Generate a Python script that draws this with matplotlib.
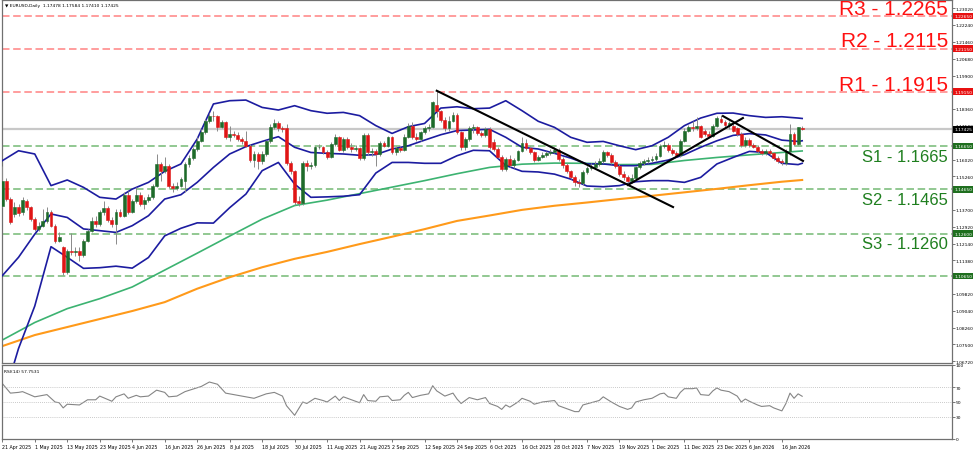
import numpy as np
import pandas as pd
import matplotlib
matplotlib.use("Agg")
import matplotlib.pyplot as plt
import matplotlib.transforms as mtransforms

plt.rcParams['font.family'] = ['DejaVu Sans']

# EURUSD daily candles, 21 Apr 2025 .. 23 Jan 2026 (terminal skips 25 Dec and 1 Jan)
opens = [
    1.1389, 1.1505, 1.1420, 1.1351, 1.1385, 1.1358, 1.1412, 1.1382, 1.1328, 1.1282,
    1.1297, 1.1317, 1.1358, 1.1297, 1.1228, 1.1197, 1.1081, 1.1181, 1.1174, 1.1181,
    1.1163, 1.1228, 1.1274, 1.1320, 1.1305, 1.1358, 1.1378, 1.1323, 1.1305, 1.1358,
    1.1343, 1.1439, 1.1358, 1.1409, 1.1439, 1.1397, 1.1415, 1.1428, 1.1482, 1.1582,
    1.1548, 1.1574, 1.1482, 1.1471, 1.1482, 1.1505, 1.1582, 1.1609, 1.1651, 1.1689,
    1.1728, 1.1779, 1.1805, 1.1802, 1.1754, 1.1774, 1.1708, 1.1720, 1.1717, 1.1697,
    1.1686, 1.1666, 1.1600, 1.1628, 1.1594, 1.1628, 1.1686, 1.1754, 1.1769, 1.1748,
    1.1750, 1.1585, 1.1548, 1.1410, 1.1400, 1.1588, 1.1571, 1.1579, 1.1659, 1.1662,
    1.1639, 1.1616, 1.1674, 1.1705, 1.1646, 1.1697, 1.1659, 1.1651, 1.1654, 1.1609,
    1.1717, 1.1635, 1.1643, 1.1628, 1.1677, 1.1666, 1.1705, 1.1635, 1.1656, 1.1646,
    1.1708, 1.1759, 1.1708, 1.1697, 1.1728, 1.1748, 1.1754, 1.1856, 1.1825, 1.1785,
    1.1746, 1.1782, 1.1809, 1.1728, 1.1659, 1.1697, 1.1748, 1.1751, 1.1723, 1.1716,
    1.1742, 1.1682, 1.1651, 1.1616, 1.1560, 1.1603, 1.1577, 1.1600, 1.1640, 1.1680,
    1.1656, 1.1637, 1.1600, 1.1616, 1.1625, 1.1631, 1.1639, 1.1646, 1.1605, 1.1576,
    1.1548, 1.1523, 1.1499, 1.1495, 1.1545, 1.1563, 1.1569, 1.1582, 1.1594, 1.1635,
    1.1625, 1.1589, 1.1574, 1.1535, 1.1520, 1.1505, 1.1517, 1.1566, 1.1585, 1.1594,
    1.1600, 1.1605, 1.1620, 1.1665, 1.1671, 1.1646, 1.1631, 1.1622, 1.1689, 1.1736,
    1.1751, 1.1746, 1.1759, 1.1732, 1.1720, 1.1712, 1.1759, 1.1791, 1.1776, 1.1760,
    1.1757, 1.1748, 1.1720, 1.1668, 1.1692, 1.1671, 1.1662, 1.1640, 1.1631, 1.1643,
    1.1631, 1.1609, 1.1597, 1.1585, 1.1640, 1.1720, 1.1674, 1.17478,
]
highs = [
    1.1574, 1.1517, 1.1428, 1.1405, 1.1397, 1.1428, 1.1420, 1.1389, 1.1335, 1.1312,
    1.1374, 1.1382, 1.1369, 1.1305, 1.1266, 1.1205, 1.1189, 1.1262, 1.1197, 1.1197,
    1.1235, 1.1282, 1.1335, 1.1343, 1.1369, 1.1412, 1.1389, 1.1335, 1.1374, 1.1374,
    1.1451, 1.1459, 1.1420, 1.1474, 1.1451, 1.1428, 1.1443, 1.1489, 1.1628, 1.1589,
    1.1612, 1.1582, 1.1492, 1.1497, 1.1523, 1.1589, 1.1625, 1.1662, 1.1705, 1.1743,
    1.1789, 1.1816, 1.1828, 1.1809, 1.1785, 1.1782, 1.1759, 1.1736, 1.1728, 1.1708,
    1.1736, 1.1674, 1.1643, 1.1635, 1.1643, 1.1692, 1.1766, 1.1789, 1.1779, 1.1759,
    1.1766, 1.1594, 1.1554, 1.1435, 1.1597, 1.1600, 1.1589, 1.1666, 1.1674, 1.1666,
    1.1646, 1.1682, 1.1720, 1.1712, 1.1705, 1.1705, 1.1677, 1.1671, 1.1662, 1.1723,
    1.1723, 1.1656, 1.1651, 1.1686, 1.1689, 1.1712, 1.1712, 1.1666, 1.1662, 1.1720,
    1.1769, 1.1774, 1.1723, 1.1736, 1.1759, 1.1766, 1.1874, 1.1920, 1.1831, 1.1797,
    1.1805, 1.1820, 1.1816, 1.1736, 1.1705, 1.1759, 1.1766, 1.1759, 1.1736, 1.1751,
    1.1751, 1.1697, 1.1659, 1.1625, 1.1612, 1.1625, 1.1609, 1.1646, 1.1705, 1.1697,
    1.1666, 1.1643, 1.1625, 1.1635, 1.1643, 1.1651, 1.1662, 1.1656, 1.1612, 1.1585,
    1.1554, 1.1532, 1.1512, 1.1554, 1.1574, 1.1585, 1.1594, 1.1609, 1.1646, 1.1643,
    1.1631, 1.1600, 1.1582, 1.1548, 1.1532, 1.1535, 1.1574, 1.1594, 1.1605, 1.1612,
    1.1620, 1.1631, 1.1674, 1.1689, 1.1677, 1.1656, 1.1643, 1.1697, 1.1748, 1.1763,
    1.1782, 1.1800, 1.1763, 1.1743, 1.1736, 1.1766, 1.1803, 1.1808, 1.1785, 1.1782,
    1.1766, 1.1754, 1.1728, 1.1705, 1.1700, 1.1677, 1.1668, 1.1651, 1.1651, 1.1651,
    1.1637, 1.1620, 1.1605, 1.1649, 1.1766, 1.1728, 1.1754, 1.17584,
]
lows = [
    1.1382, 1.1412, 1.1305, 1.1335, 1.1343, 1.1348, 1.1369, 1.1317, 1.1274, 1.1271,
    1.1289, 1.1308, 1.1289, 1.1215, 1.1220, 1.1071, 1.1074, 1.1163, 1.1158, 1.1135,
    1.1154, 1.1220, 1.1266, 1.1292, 1.1297, 1.1348, 1.1312, 1.1289, 1.1212, 1.1335,
    1.1338, 1.1351, 1.1354, 1.1400, 1.1389, 1.1374, 1.1405, 1.1420, 1.1474, 1.1505,
    1.1539, 1.1471, 1.1451, 1.1462, 1.1474, 1.1451, 1.1566, 1.1600, 1.1643, 1.1682,
    1.1720, 1.1769, 1.1782, 1.1736, 1.1748, 1.1697, 1.1689, 1.1705, 1.1686, 1.1674,
    1.1659, 1.1589, 1.1566, 1.1559, 1.1582, 1.1620, 1.1677, 1.1743, 1.1736, 1.1728,
    1.1579, 1.1535, 1.1394, 1.1389, 1.1394, 1.1548, 1.1559, 1.1569, 1.1649, 1.1628,
    1.1605, 1.1609, 1.1666, 1.1640, 1.1635, 1.1651, 1.1635, 1.1643, 1.1600, 1.1600,
    1.1625, 1.1620, 1.1574, 1.1620, 1.1659, 1.1659, 1.1628, 1.1625, 1.1635, 1.1640,
    1.1702, 1.1697, 1.1686, 1.1686, 1.1720, 1.1736, 1.1748, 1.1797, 1.1774, 1.1736,
    1.1732, 1.1774, 1.1720, 1.1646, 1.1646, 1.1689, 1.1723, 1.1717, 1.1705, 1.1705,
    1.1651, 1.1640, 1.1609, 1.1548, 1.1548, 1.1566, 1.1563, 1.1594, 1.1635, 1.1646,
    1.1628, 1.1589, 1.1594, 1.1609, 1.1616, 1.1625, 1.1634, 1.1597, 1.1563, 1.1539,
    1.1512, 1.1482, 1.1477, 1.1486, 1.1535, 1.1554, 1.1563, 1.1572, 1.1588, 1.1616,
    1.1582, 1.1563, 1.1528, 1.1508, 1.1489, 1.1495, 1.1508, 1.1559, 1.1579, 1.1585,
    1.1589, 1.1597, 1.1612, 1.1656, 1.1635, 1.1622, 1.1616, 1.1616, 1.1682, 1.1728,
    1.1736, 1.1739, 1.1702, 1.1711, 1.1705, 1.1708, 1.1754, 1.1769, 1.1754, 1.1742,
    1.1729, 1.1712, 1.1659, 1.1662, 1.1662, 1.1656, 1.1631, 1.1622, 1.1625, 1.1622,
    1.1600, 1.1588, 1.1579, 1.1579, 1.1625, 1.1665, 1.1668, 1.17410,
]
closes = [
    1.1505, 1.1420, 1.1312, 1.1385, 1.1354, 1.1415, 1.1382, 1.1328, 1.1282, 1.1297,
    1.1317, 1.1358, 1.1297, 1.1228, 1.1246, 1.1081, 1.1181, 1.1174, 1.1181, 1.1163,
    1.1228, 1.1274, 1.1320, 1.1305, 1.1358, 1.1378, 1.1323, 1.1305, 1.1358, 1.1343,
    1.1439, 1.1358, 1.1409, 1.1439, 1.1397, 1.1415, 1.1428, 1.1482, 1.1582, 1.1548,
    1.1574, 1.1482, 1.1471, 1.1482, 1.1512, 1.1582, 1.1609, 1.1651, 1.1689, 1.1728,
    1.1779, 1.1805, 1.1802, 1.1754, 1.1774, 1.1708, 1.1720, 1.1717, 1.1697, 1.1686,
    1.1666, 1.1600, 1.1628, 1.1594, 1.1628, 1.1686, 1.1754, 1.1769, 1.1748, 1.1743,
    1.1585, 1.1548, 1.1405, 1.1400, 1.1588, 1.1571, 1.1579, 1.1659, 1.1662, 1.1639,
    1.1616, 1.1674, 1.1705, 1.1646, 1.1697, 1.1659, 1.1651, 1.1654, 1.1609, 1.1717,
    1.1635, 1.1643, 1.1628, 1.1677, 1.1666, 1.1705, 1.1635, 1.1656, 1.1646, 1.1708,
    1.1759, 1.1708, 1.1697, 1.1728, 1.1748, 1.1754, 1.1866, 1.1825, 1.1785, 1.1746,
    1.1782, 1.1809, 1.1728, 1.1659, 1.1697, 1.1748, 1.1751, 1.1723, 1.1716, 1.1742,
    1.1662, 1.1651, 1.1616, 1.1560, 1.1603, 1.1577, 1.1600, 1.1640, 1.1680, 1.1656,
    1.1637, 1.1600, 1.1616, 1.1625, 1.1631, 1.1639, 1.1646, 1.1605, 1.1576, 1.1548,
    1.1523, 1.1499, 1.1495, 1.1545, 1.1563, 1.1569, 1.1582, 1.1594, 1.1635, 1.1625,
    1.1589, 1.1574, 1.1535, 1.1520, 1.1505, 1.1517, 1.1566, 1.1585, 1.1594, 1.1600,
    1.1605, 1.1620, 1.1665, 1.1671, 1.1646, 1.1631, 1.1622, 1.1689, 1.1736, 1.1751,
    1.1746, 1.1759, 1.1708, 1.1720, 1.1712, 1.1759, 1.1794, 1.1776, 1.1760, 1.1772,
    1.1736, 1.1720, 1.1668, 1.1692, 1.1671, 1.1662, 1.1640, 1.1631, 1.1643, 1.1631,
    1.1609, 1.1597, 1.1589, 1.1640, 1.1720, 1.1674, 1.1751, 1.17425,
]

# Bollinger bands (20), read every 4th bar plus the last bar
band_bars = list(range(0, 197, 4)) + [197]
bb_upper = [
    1.1597, 1.1643, 1.1628, 1.1482, 1.1508, 1.1474, 1.1428, 1.1420, 1.1466, 1.1497,
    1.1548, 1.1582, 1.1697, 1.1859, 1.1874, 1.1877, 1.1843, 1.1831, 1.1851, 1.1828,
    1.1816, 1.1820, 1.1805, 1.1759, 1.1723, 1.1754, 1.1769, 1.1840, 1.1846, 1.1837,
    1.1840, 1.1874, 1.1828, 1.1779, 1.1751, 1.1705, 1.1682, 1.1686, 1.1666, 1.1648,
    1.1666, 1.1705, 1.1759, 1.1794, 1.1816, 1.1817, 1.1805, 1.1797, 1.1800, 1.1794,
    1.1792,
]
bb_mid = [
    1.1066, 1.1151, 1.1258, 1.1351, 1.1335, 1.1282, 1.1274, 1.1266, 1.1297, 1.1343,
    1.1420, 1.1440, 1.1497, 1.1566, 1.1628, 1.1662, 1.1686, 1.1708, 1.1659, 1.1635,
    1.1631, 1.1628, 1.1622, 1.1625, 1.1651, 1.1666, 1.1692, 1.1717, 1.1736, 1.1739,
    1.1742, 1.1705, 1.1659, 1.1651, 1.1631, 1.1609, 1.1582, 1.1582, 1.1574, 1.1574,
    1.1585, 1.1600, 1.1625, 1.1659, 1.1689, 1.1714, 1.1722, 1.1716, 1.1692, 1.1686,
    1.1689,
]
bb_lower = [
    1.0480, 1.0730, 1.0926, 1.1200, 1.1151, 1.1100, 1.1103, 1.1110, 1.1101, 1.1150,
    1.1250, 1.1285, 1.1310, 1.1309, 1.1380, 1.1443, 1.1551, 1.1589, 1.1489, 1.1428,
    1.1430, 1.1433, 1.1440, 1.1540, 1.1589, 1.1589, 1.1585, 1.1585, 1.1620, 1.1645,
    1.1643, 1.1575, 1.1548, 1.1545, 1.1535, 1.1512, 1.1480, 1.1477, 1.1482, 1.1500,
    1.1505, 1.1505, 1.1497, 1.1520, 1.1582, 1.1612, 1.1640, 1.1635, 1.1585, 1.1579,
    1.1585,
]

# moving averages, read every 8th bar plus the last bar
ma_bars = list(range(0, 197, 8)) + [197]
ma_green = [
    1.0769, 1.0850, 1.0914, 1.0960, 1.1014, 1.1092, 1.1170, 1.1249, 1.1327, 1.1390,
    1.1415, 1.1445, 1.1475, 1.1505, 1.1537, 1.1566, 1.1581, 1.1586, 1.1585, 1.1579,
    1.1580, 1.1598, 1.1612, 1.1624, 1.1635, 1.1642,
]
ma_orange = [
    1.0741, 1.0792, 1.0829, 1.0866, 1.0903, 1.0944, 1.1006, 1.1059, 1.1105, 1.1144,
    1.1176, 1.1212, 1.1246, 1.1281, 1.1319, 1.1344, 1.1370, 1.1389, 1.1404, 1.1420,
    1.1435, 1.1451, 1.1467, 1.1484, 1.1500, 1.1508,
]

# RSI(14)
rsi_bars = [
    0, 2, 4, 5, 8, 11, 13, 14, 15, 16, 19, 21, 23, 24, 27, 28, 30, 31, 33, 34,
    36, 38, 40, 41, 43, 45, 49, 51, 53, 55, 59, 62, 65, 67, 69, 70, 72, 74, 75, 77,
    79, 80, 82, 83, 84, 86, 88, 89, 90, 92, 93, 95, 96, 98, 99, 100, 101, 103, 105, 106,
    107, 109, 111, 112, 113, 115, 117, 119, 120, 122, 123, 124, 125, 127, 128, 130, 131, 133, 136, 137,
    139, 141, 142, 143, 145, 147, 148, 150, 152, 154, 155, 156, 158, 160, 162, 163, 164, 166, 167, 168,
    170, 171, 172, 174, 175, 176, 177, 179, 180, 181, 182, 183, 184, 186, 187, 189, 190, 191, 192, 193,
    194, 195, 196, 197,
]
rsi_values = [
    75, 62, 63, 64, 57, 60, 50, 49, 42, 47, 46, 53, 53, 58, 51, 57, 61, 55, 59, 57,
    58, 66, 63, 57, 58, 64, 71, 77, 74, 62, 58, 55, 61, 63, 58, 45, 32, 50, 48, 55,
    52, 50, 58, 52, 57, 53, 49, 60, 52, 51, 57, 58, 52, 53, 59, 63, 56, 59, 61, 72,
    65, 58, 62, 54, 48, 56, 53, 56, 48, 44, 40, 46, 43, 50, 55, 51, 47, 50, 52, 45,
    41, 37, 37, 46, 49, 52, 57, 50, 44, 40, 42, 50, 53, 55, 61, 62, 57, 55, 63, 68,
    68, 69, 60, 59, 65, 69, 66, 64, 61, 58, 50, 54, 51, 46, 44, 45, 42, 40, 38, 48,
    62, 55, 61, 57.7531,
]

resistances = [("R3", 1.2265), ("R2", 1.2115), ("R1", 1.1915)]
supports = [("S1", 1.1665), ("S2", 1.1465), ("S3", 1.1260)]
extra_support = 1.1065
last_price = 1.17425

# hand drawn trend lines: (bar, price) -> (bar, price)
trend_lines = [
    ((107.0, 1.1920), (165.2, 1.1383)),
    ((154.1, 1.1485), (182.4, 1.1794)),
    ((177.5, 1.1803), (197.2, 1.1596)),
]

price_ticks = [1.23020, 1.22240, 1.21460, 1.20680, 1.19900, 1.18360, 1.17580, 1.16020,
               1.15260, 1.13700, 1.12920, 1.12140, 1.11380, 1.09820, 1.09040, 1.08260,
               1.07500, 1.06720]

n = len(closes)
days = pd.bdate_range("2025-04-21", periods=n + 4)
days = days[~days.isin(pd.to_datetime(["2025-12-25", "2026-01-01"]))][:n]
tick_bars = list(range(0, n, 8))
tick_labels = [f"{days[i].day} {days[i].strftime('%b %Y')}" for i in tick_bars]

x = np.arange(n)
o = np.array(opens)
h = np.array(highs)
l = np.array(lows)
c = np.array(closes)

fig = plt.figure(figsize=(9.75, 4.52), dpi=100)
ax = fig.add_axes([2 / 975, 1 - 364 / 452, 950 / 975, 363 / 452])
ax_rsi = fig.add_axes([2 / 975, 1 - 440 / 452, 950 / 975, 74 / 452])

red_line = '#ff8c8c'
green_line = '#7fbf7f'
dash = (0, (4.5, 2.2))

for _, v in resistances:
    ax.axhline(v, color=red_line, lw=1.2, ls=dash, zorder=1)
for _, v in supports:
    ax.axhline(v, color=green_line, lw=1.2, ls=dash, zorder=1)
ax.axhline(extra_support, color=green_line, lw=1.2, ls=dash, zorder=1)
ax.axhline(last_price, color='#c8c8c8', lw=1.6, zorder=1)

ax.plot(ma_bars, ma_orange, color='#ff9a1a', lw=1.5, zorder=2)
ax.plot(ma_bars, ma_green, color='#3cb371', lw=1.2, zorder=2)
for band in (bb_upper, bb_mid, bb_lower):
    ax.plot(band_bars, band, color='#1c1ca0', lw=1.2, zorder=3)

up = c >= o
body_col = np.where(up, '#1e6b2a', '#e01515')
ax.vlines(x, l, h, color='#8a8a8a', lw=0.7, zorder=4)
ax.bar(x, np.abs(c - o), bottom=np.minimum(o, c), width=0.7, color=body_col,
       edgecolor=body_col, linewidth=0.4, zorder=5)

for (x0, y0), (x1, y1) in trend_lines:
    ax.plot([x0, x1], [y0, y1], color='black', lw=1.5, zorder=6)

ax.set_xlim(-0.07, 233.9)
ax.set_ylim(1.0663, 1.2339)
ax.set_xticks([])
ax.yaxis.tick_right()
ax.set_yticks(price_ticks)
ax.set_yticklabels([f"{p:.5f}" for p in price_ticks])
ax.tick_params(axis='y', length=2, width=0.6, color='#606060', labelsize=3.2, pad=0.8)

trans = mtransforms.blended_transform_factory(ax.transAxes, ax.transData)
label_font = ['Liberation Sans', 'DejaVu Sans']
for name, v in resistances:
    ax.annotate(f"{name} - {v:.4f}", xy=(0.9958, v), xycoords=trans, xytext=(0, 1.5),
                textcoords='offset points', ha='right', va='baseline', fontsize=15,
                color='#ff1010', family=label_font)
for name, v in supports:
    ax.annotate(f"{name} - {v:.4f}", xy=(0.9958, v), xycoords=trans, xytext=(0, -2),
                textcoords='offset points', ha='right', va='top', fontsize=12,
                color='#1f7f1f', family=label_font)

tags = [(v, '#e81010') for _, v in resistances] + [(v, '#1f6f1f') for _, v in supports]
tags += [(extra_support, '#1f6f1f'), (last_price, '#000000')]
for v, fc in tags:
    ax.text(1.0022, v, f"{v:.5f}", transform=trans, fontsize=3.2, color='white',
            va='center', ha='left', clip_on=False,
            bbox=dict(boxstyle='square,pad=0.3', fc=fc, ec='none'))

ax.text(0.003, 0.992, "\u25bc EURUSD,Daily  1.17478 1.17584 1.17410 1.17425",
        transform=ax.transAxes, fontsize=3.2, va='top', ha='left')

ax_rsi.plot(rsi_bars, rsi_values, color='#858585', lw=0.8)
for lvl in (30, 50, 70):
    ax_rsi.axhline(lvl, color='#b8b8b8', lw=0.6, ls=(0, (1, 1.5)))
ax_rsi.set_xlim(ax.get_xlim())
ax_rsi.set_ylim(0, 100)
ax_rsi.yaxis.tick_right()
ax_rsi.set_yticks([0, 30, 50, 70, 100])
ax_rsi.tick_params(axis='y', length=2, width=0.6, color='#606060', labelsize=3.2, pad=0.8)
ax_rsi.set_xticks(tick_bars)
ax_rsi.set_xticklabels(tick_labels)
for t in ax_rsi.get_xticklabels():
    t.set_horizontalalignment('left')
ax_rsi.tick_params(axis='x', length=2.5, width=0.6, color='#606060', labelsize=3.4, pad=1)
ax_rsi.text(0.002, 0.95, "RSI(14) 57.7531", transform=ax_rsi.transAxes,
            fontsize=3.2, va='top', ha='left')

for a in (ax, ax_rsi):
    for s in a.spines.values():
        s.set_color('#707070')
        s.set_linewidth(0.9)

fig.savefig('out.png', dpi=100)
